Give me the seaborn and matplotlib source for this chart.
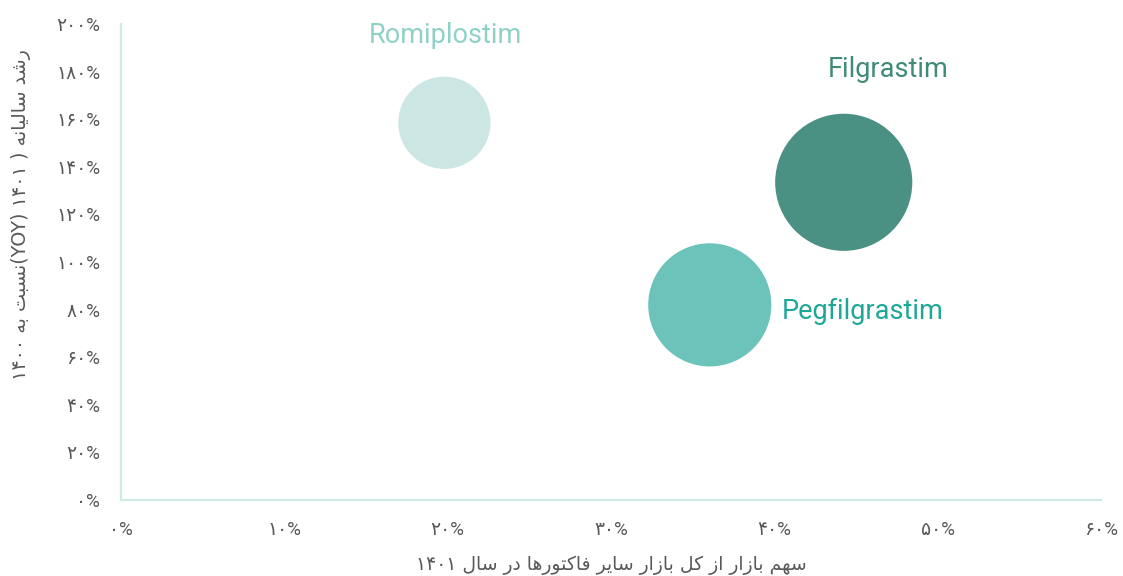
import matplotlib
matplotlib.use("Agg")
import matplotlib.pyplot as plt
from matplotlib.ticker import FuncFormatter, MultipleLocator
import seaborn as sns
import pandas as pd

# ---------------- data ----------------
drugs = ["Romiplostim", "Filgrastim", "Pegfilgrastim"]
market_share = [0.198, 0.4425, 0.3605]      # x
yoy_growth = [1.585, 1.335, 0.82]            # y
bubble_size = [2134, 4720, 3807]             # relative bubble area
bubble_colors = ["#cce7e3", "#4a9183", "#6cc3ba"]
label_colors = ["#8fd1c7", "#3f8a79", "#1ca796"]

x_label_words = ["سهم", "بازار", "از", "کل", "بازار", "سایر", "فاکتورها", "در", "سال", "۱۴۰۱"]
y_label_parts = ["رشد", "سالیانه", ")", "۱۴۰۱", "نسبت(YOY)", "به", "۱۴۰۰"]

# ------------- simple Persian shaping (presentation forms) -------------
FORMS = {  # isolated, final, initial, medial
    "ا": ("\uFE8D", "\uFE8E", None, None),
    "ب": ("\uFE8F", "\uFE90", "\uFE91", "\uFE92"),
    "ت": ("\uFE95", "\uFE96", "\uFE97", "\uFE98"),
    "د": ("\uFEA9", "\uFEAA", None, None),
    "ر": ("\uFEAD", "\uFEAE", None, None),
    "ز": ("\uFEAF", "\uFEB0", None, None),
    "س": ("\uFEB1", "\uFEB2", "\uFEB3", "\uFEB4"),
    "ش": ("\uFEB5", "\uFEB6", "\uFEB7", "\uFEB8"),
    "ف": ("\uFED1", "\uFED2", "\uFED3", "\uFED4"),
    "ل": ("\uFEDD", "\uFEDE", "\uFEDF", "\uFEE0"),
    "م": ("\uFEE1", "\uFEE2", "\uFEE3", "\uFEE4"),
    "ن": ("\uFEE5", "\uFEE6", "\uFEE7", "\uFEE8"),
    "ه": ("\uFEE9", "\uFEEA", "\uFEEB", "\uFEEC"),
    "و": ("\uFEED", "\uFEEE", None, None),
    "ک": ("\uFB8E", "\uFB8F", "\uFB90", "\uFB91"),
    "ی": ("\uFBFC", "\uFBFD", "\uFBFE", "\uFBFF"),
}


def joins_left(ch):
    return ch in FORMS and FORMS[ch][2] is not None


def shape_word(word):
    if not any(c in FORMS for c in word):
        return word
    out = []
    n = len(word)
    for i, c in enumerate(word):
        if c not in FORMS:
            out.append(c)
            continue
        prev_join = i > 0 and joins_left(word[i - 1])
        next_join = i < n - 1 and word[i + 1] in FORMS and joins_left(c)
        iso, fin, ini, med = FORMS[c]
        if prev_join and next_join:
            out.append(med)
        elif prev_join:
            out.append(fin)
        elif next_join:
            out.append(ini)
        else:
            out.append(iso)
    # visual order: right-to-left
    return "".join(reversed(out))


def shape_part(part):
    # Arabic run followed by a Latin run (for "نسبت(YOY)")
    if part.endswith("(YOY)"):
        return shape_word(part[:-5]) + "(YOY)"
    return shape_word(part)


def rtl_line(parts):
    return " ".join(shape_part(p) for p in reversed(parts))


PERSIAN_DIGITS = str.maketrans("0123456789", "۰۱۲۳۴۵۶۷۸۹")


def pct_fmt(v, pos):
    return f"{int(round(v * 100))}".translate(PERSIAN_DIGITS) + "%"


# ---------------- plot ----------------
sns.set_theme(style="white")
plt.rcParams["font.family"] = ["Roboto", "DejaVu Sans"]

df = pd.DataFrame({"drug": drugs, "share": market_share,
                   "growth": yoy_growth, "size": bubble_size})

fig = plt.figure(figsize=(11.23, 5.76), dpi=100)
ax = fig.add_axes([0.1077, 0.1319, 0.8727, 0.8264])

sns.scatterplot(data=df, x="share", y="growth", hue="drug", size="size",
                palette=dict(zip(drugs, bubble_colors)),
                sizes=(0, 9750), size_norm=(0, max(bubble_size)),
                legend=False, linewidth=0, alpha=1, ax=ax)

offsets = [(1, 63), (32, 81), (52, -5)]
aligns = ["center", "center", "left"]
for i, d in enumerate(drugs):
    ax.annotate(d, (market_share[i], yoy_growth[i]), xytext=offsets[i],
                textcoords="offset points", ha=aligns[i], va="center",
                fontsize=19.5, color=label_colors[i], family="Roboto")

ax.set_xlim(0, 0.6)
ax.set_ylim(0, 2.0)
ax.xaxis.set_major_locator(MultipleLocator(0.1))
ax.yaxis.set_major_locator(MultipleLocator(0.2))
ax.xaxis.set_major_formatter(FuncFormatter(pct_fmt))
ax.yaxis.set_major_formatter(FuncFormatter(pct_fmt))
ax.tick_params(axis="both", length=0, labelsize=13.5, labelcolor="#595959")
ax.tick_params(axis="x", pad=15)
ax.tick_params(axis="y", pad=15)

for side in ["top", "right"]:
    ax.spines[side].set_visible(False)
for side in ["left", "bottom"]:
    ax.spines[side].set_color("#cfe9e5")
    ax.spines[side].set_linewidth(1.6)

ax.set_xlabel(rtl_line(x_label_words), fontsize=13.5, color="#595959",
              family="DejaVu Sans")
ax.set_ylabel(rtl_line(y_label_parts), fontsize=13.8, color="#595959",
              family="DejaVu Sans")
ax.xaxis.set_label_coords(0.5, -0.117)
ax.yaxis.set_label_coords(-0.092, 0.6)

fig.savefig("out.png", dpi=100)
